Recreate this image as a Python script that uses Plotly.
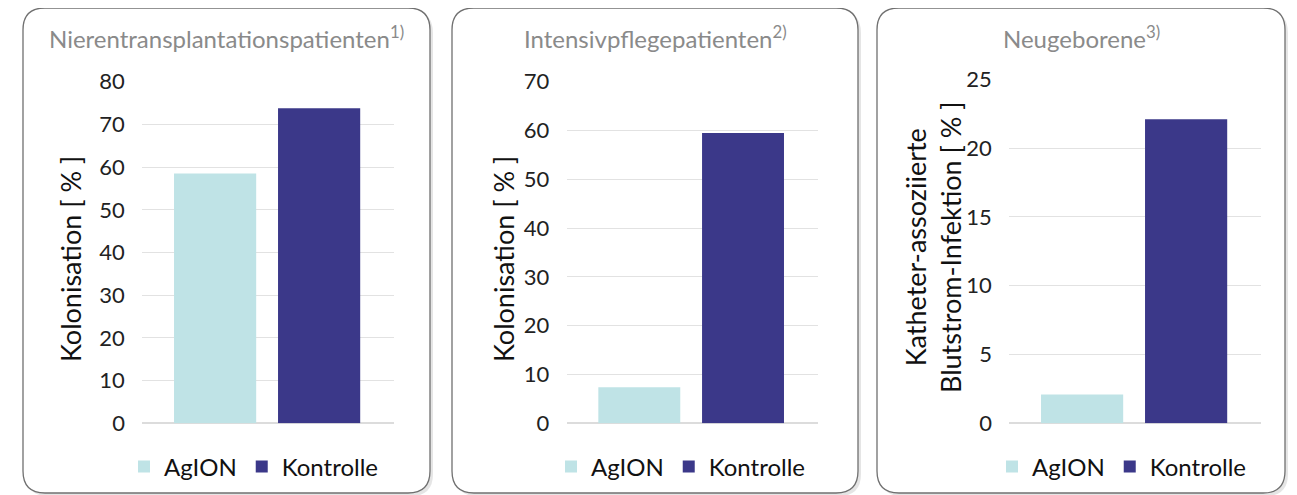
import plotly.graph_objects as go

W, H = 1297, 495
OFF = 8  # page body margin shifts the figure by 8px

categories = ["AgION", "Kontrolle"]
panel_titles = ["Nierentransplantationspatienten<sup>1)</sup>",
                "Intensivpflegepatienten<sup>2)</sup>",
                "Neugeborene<sup>3)</sup>"]
axis_titles = ["Kolonisation [ % ]",
               "Kolonisation [ % ]",
               "Katheter-assoziierte<br>Blutstrom-Infektion [ % ]"]
agion_values = [58.5, 7.4, 2.1]
kontrolle_values = [73.8, 59.5, 22.1]
y_max = [80, 70, 25]
y_dtick = [10, 10, 5]

colors = {"AgION": "#bfe3e6", "Kontrolle": "#3b3889"}

# layout helpers (screen pixels -> paper)
def px(x):
    return (x - OFF) / W

def py(y):
    return 1 - (y - OFF) / H

boxes = [(23, 8, 430, 493), (452, 8, 858, 493), (877, 8, 1285, 493)]
plot_x = [(142.3, 394), (566.7, 817.7), (1009.3, 1261)]
plot_y = [(81.7, 423.3), (81.7, 423.3), (79.3, 423.3)]
axis_title_pos = [(70, 259), (503, 259), (933, 247)]
legend_x = [254, 681, 1122]

fig = go.Figure()

shapes = []
def rounded(x0, y0, x1, y1, r):
    p = []
    p.append(f"M {px(x0 + r)},{py(y0)}")
    p.append(f"L {px(x1 - r)},{py(y0)}")
    p.append(f"Q {px(x1)},{py(y0)} {px(x1)},{py(y0 + r)}")
    p.append(f"L {px(x1)},{py(y1 - r)}")
    p.append(f"Q {px(x1)},{py(y1)} {px(x1 - r)},{py(y1)}")
    p.append(f"L {px(x0 + r)},{py(y1)}")
    p.append(f"Q {px(x0)},{py(y1)} {px(x0)},{py(y1 - r)}")
    p.append(f"L {px(x0)},{py(y0 + r)}")
    p.append(f"Q {px(x0)},{py(y0)} {px(x0 + r)},{py(y0)}")
    p.append("Z")
    return " ".join(p)

annotations = []
for i in range(3):
    xa = "x" if i == 0 else f"x{i+1}"
    ya = "y" if i == 0 else f"y{i+1}"
    lg = "legend" if i == 0 else f"legend{i+1}"
    for name, vals in (("AgION", agion_values), ("Kontrolle", kontrolle_values)):
        fig.add_trace(go.Bar(
            x=[name], y=[vals[i]], name=name, width=0.79,
            marker=dict(color=colors[name], line=dict(width=0)),
            xaxis=xa, yaxis=ya, legend=lg, hoverinfo="skip",
        ))
    x0, y0, x1, y1 = boxes[i]
    # shadow
    shapes.append(dict(type="path", xref="paper", yref="paper",
                       path=rounded(x0 + 3, y0 + 3, x1 + 3, y1 + 3, 22),
                       fillcolor="rgba(0,0,0,0.10)", line=dict(width=0), layer="below"))
    shapes.append(dict(type="path", xref="paper", yref="paper",
                       path=rounded(x0, y0, x1, y1, 22),
                       fillcolor="white", line=dict(color="#707070", width=1.3), layer="below"))
    annotations.append(dict(text=panel_titles[i], xref="paper", yref="paper",
                            x=px((x0 + x1) / 2), y=py(37), xanchor="center", yanchor="middle",
                            showarrow=False, font=dict(family="Lato", size=24, color="#8a8a8a")))
    ax, ay = axis_title_pos[i]
    annotations.append(dict(text=axis_titles[i], xref="paper", yref="paper",
                            x=px(ax), y=py(ay), xanchor="center", yanchor="middle",
                            textangle=-90, showarrow=False,
                            font=dict(family="Lato", size=27, color="#111111")))

    xd = [px(plot_x[i][0]), px(plot_x[i][1])]
    yd = [py(plot_y[i][1]), py(plot_y[i][0])]
    xkey = "xaxis" if i == 0 else f"xaxis{i+1}"
    ykey = "yaxis" if i == 0 else f"yaxis{i+1}"
    fig.update_layout(**{
        xkey: dict(domain=xd, anchor=ya, type="category", categoryarray=categories,
                   range=[-0.70, 1.72], showticklabels=False, showgrid=False,
                   zeroline=False, showline=False, fixedrange=True, automargin=False),
        ykey: dict(domain=yd, anchor=xa, range=[0, y_max[i]], dtick=y_dtick[i],
                   showgrid=True, gridcolor="#e2e2e2", gridwidth=1,
                   zeroline=True, zerolinecolor="#dcdcdc", zerolinewidth=2,
                   showline=False, ticks="outside", ticklen=12,
                   tickcolor="rgba(0,0,0,0)", automargin=False,
                   tickfont=dict(family="Lato", size=22, color="#222222")),
        lg: dict(orientation="h", x=px(legend_x[i]), y=py(467), xanchor="center",
                 yanchor="middle", bgcolor="rgba(0,0,0,0)",
                 font=dict(family="Lato", size=24, color="#111111"),
                 itemclick=False, itemdoubleclick=False),
    })

fig.update_layout(
    width=W, height=H, margin=dict(l=0, r=0, t=0, b=0, autoexpand=False),
    paper_bgcolor="white", plot_bgcolor="rgba(0,0,0,0)",
    barmode="overlay", shapes=shapes, annotations=annotations,
    showlegend=True,
)

fig.write_html("out.html")
